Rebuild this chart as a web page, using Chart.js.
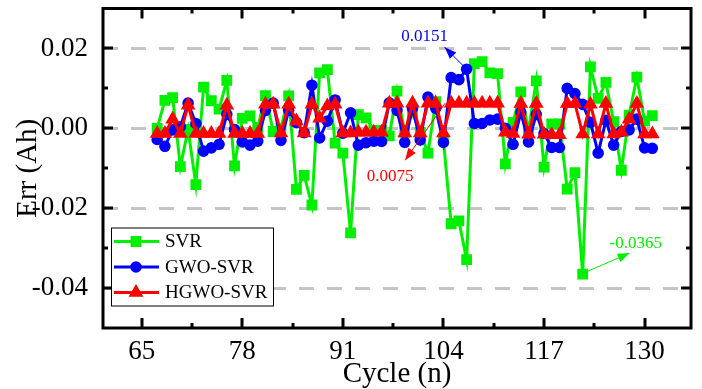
<!DOCTYPE html>
<html>
<head>
<meta charset="utf-8">
<script src="https://cdn.jsdelivr.net/npm/chart.js@4.4.0/dist/chart.umd.min.js"></script>
<style>
  html, body { margin: 0; padding: 0; background: #fff; }
  #wrap { width: 702px; height: 389px; }
</style>
</head>
<body>
<div id="wrap"><canvas id="chart" width="702" height="389"></canvas></div>
<script>
// --- Data ---
const cycles = [67, 68, 69, 70, 71, 72, 73, 74, 75, 76, 77, 78, 79, 80, 81, 82, 83, 84, 85, 86,
    87, 88, 89, 90, 91, 92, 93, 94, 95, 96, 97, 98, 99, 100, 101, 102, 103, 104, 105, 106,
    107, 108, 109, 110, 111, 112, 113, 114, 115, 116, 117, 118, 119, 120, 121, 122, 123, 124, 125, 126,
    127, 128, 129, 130, 131];

const svrErr = [0.0000, 0.0070, 0.0077, -0.0096, -0.0003, -0.0141, 0.0103, 0.0069, 0.0048, 0.0120,
    -0.0094, 0.0025, 0.0031, 0.0002, 0.0082, -0.0008, 0.0000, 0.0081, -0.0153, -0.0118,
    -0.0192, 0.0139, 0.0147, -0.0037, -0.0062, -0.0262, 0.0034, 0.0026, -0.0005, -0.0005,
    -0.0019, 0.0093, -0.0010, 0.0040, -0.0010, -0.0062, 0.0067, -0.0030, -0.0239, -0.0232,
    -0.0329, 0.0162, 0.0167, 0.0139, 0.0137, -0.0089, 0.0015, 0.0091, -0.0006, 0.0119,
    -0.0097, 0.0011, 0.0011, -0.0152, -0.0111, -0.0365, 0.0154, 0.0075, 0.0115, 0.0017,
    -0.0105, 0.0033, 0.0128, 0.0018, 0.0032];

const gwoErr = [-0.0028, -0.0045, -0.0004, 0.0004, 0.0063, 0.0012, -0.0057, -0.0049, -0.0040, 0.0035,
    -0.0003, -0.0034, -0.0042, -0.0032, 0.0045, 0.0063, -0.0030, 0.0045, 0.0014, -0.0011,
    0.0108, -0.0024, 0.0018, 0.0071, -0.0012, 0.0039, -0.0042, -0.0036, -0.0032, -0.0033,
    0.0064, 0.0045, -0.0035, 0.0050, -0.0029, 0.0078, 0.0050, -0.0035, 0.0127, 0.0122,
    0.0148, 0.0012, 0.0012, 0.0021, 0.0023, 0.0000, -0.0040, 0.0040, -0.0034, 0.0035,
    -0.0013, -0.0048, -0.0048, 0.0100, 0.0087, 0.0060, 0.0015, -0.0062, 0.0020, -0.0042,
    -0.0008, -0.0004, 0.0023, -0.0049, -0.0050];

const hgwoErr = [-0.0013, -0.0013, 0.0023, -0.0013, 0.0058, -0.0013, -0.0013, -0.0013, -0.0013, 0.0058,
    -0.0013, -0.0013, -0.0013, -0.0013, 0.0060, 0.0060, -0.0012, 0.0060, 0.0018, -0.0012,
    0.0060, 0.0025, 0.0056, 0.0060, -0.0012, -0.0012, -0.0010, -0.0010, -0.0010, -0.0010,
    0.0063, 0.0063, -0.0012, 0.0063, -0.0012, 0.0063, 0.0063, -0.0012, 0.0063, 0.0063,
    0.0063, 0.0063, 0.0063, 0.0063, 0.0063, -0.0010, -0.0013, 0.0062, -0.0015, 0.0062,
    -0.0015, -0.0016, -0.0016, 0.0062, 0.0062, -0.0014, 0.0060, -0.0014, 0.0062, -0.0014,
    -0.0010, 0.0023, 0.0062, -0.0014, -0.0014];

const xTicks = [65, 78, 91, 104, 117, 130];
const xMinorTicks = [71.5, 84.5, 97.5, 110.5, 123.5];
const yTicks = [-0.04, -0.02, 0.00, 0.02];
const yMinorTicks = [-0.03, -0.01, 0.01];

// labelled extremes, placed relative to the data point they point at
const callouts = [
    { series: 1, cycle: 107, text: '0.0151', textDx: -42, textDy: -33, tailDx: -3, tailDy: -3, headDx: -22, headDy: -22 },
    { series: 2, cycle: 105, text: '0.0075', textDx: -61, textDy: 73, tailDx: -6, tailDy: 0, headDx: -46, headDy: 57 },
    { series: 0, cycle: 122, text: '-0.0365', textDx: 53, textDy: -31, tailDx: 3, tailDy: -2, headDx: 47, headDy: -21 }
];

const SERIF = '"Liberation Serif", "Times New Roman", serif';
const GREEN = '#00f000';
const BLUE = '#0000ff';
const RED = '#ff0000';

function toPoints(values) {
    return cycles.map((c, i) => ({ x: c, y: values[i] }));
}

// --- Frame, inward ticks, legend, callouts ---
const decorPlugin = {
    id: 'decor',
    afterDraw(chart) {
        const { ctx, chartArea: a, scales: { x, y } } = chart;
        ctx.save();

        // frame
        ctx.strokeStyle = '#000';
        ctx.lineWidth = 3;
        ctx.strokeRect(a.left, a.top, a.right - a.left, a.bottom - a.top);

        // ticks on all four sides pointing inward
        ctx.beginPath();
        const xt = (v, len) => {
            const px = Math.round(x.getPixelForValue(v));
            ctx.moveTo(px, a.bottom); ctx.lineTo(px, a.bottom - len);
            ctx.moveTo(px, a.top); ctx.lineTo(px, a.top + len);
        };
        const yt = (v, len) => {
            const py = Math.round(y.getPixelForValue(v));
            ctx.moveTo(a.left, py); ctx.lineTo(a.left + len, py);
            ctx.moveTo(a.right, py); ctx.lineTo(a.right - len, py);
        };
        xTicks.forEach(v => xt(v, 10));
        xMinorTicks.forEach(v => xt(v, 5));
        yTicks.forEach(v => yt(v, 10));
        yMinorTicks.forEach(v => yt(v, 5));
        ctx.stroke();

        // legend box
        const lx = a.left + 8, ly = a.top + 219, lw = 162, lh = 78;
        ctx.fillStyle = '#fff';
        ctx.fillRect(lx, ly, lw, lh);
        ctx.lineWidth = 1;
        ctx.strokeStyle = '#000';
        ctx.strokeRect(lx + 0.5, ly + 0.5, lw, lh);

        ctx.font = '19px ' + SERIF;
        ctx.textBaseline = 'middle';
        ctx.textAlign = 'left';
        chart.data.datasets.forEach((ds, i) => {
            const rowY = ly + 14 + i * 25.5;
            ctx.strokeStyle = ds.borderColor;
            ctx.lineWidth = ds.borderWidth;
            ctx.beginPath();
            ctx.moveTo(lx + 3, rowY);
            ctx.lineTo(lx + 48, rowY);
            ctx.stroke();
            ctx.fillStyle = ds.pointBackgroundColor;
            ctx.strokeStyle = ds.pointBorderColor;
            Chart.helpers.drawPoint(ctx, {
                pointStyle: ds.pointStyle, radius: ds.pointRadius, rotation: 0, borderWidth: 1
            }, lx + 25, rowY);
            ctx.fillStyle = '#000';
            ctx.fillText(ds.label, lx + 54, rowY + 1);
        });

        // callouts
        ctx.font = '17px ' + SERIF;
        ctx.textAlign = 'center';
        callouts.forEach(c => {
            const ds = chart.data.datasets[c.series];
            const pt = ds.data.find(p => p.x === c.cycle);
            const px = x.getPixelForValue(pt.x);
            const py = y.getPixelForValue(pt.y);
            const col = ds.borderColor;
            const x0 = px + c.tailDx, y0 = py + c.tailDy;
            const x1 = px + c.headDx, y1 = py + c.headDy;
            ctx.strokeStyle = col;
            ctx.fillStyle = col;
            ctx.lineWidth = 1;
            ctx.beginPath();
            ctx.moveTo(x0, y0);
            ctx.lineTo(x1, y1);
            ctx.stroke();
            const ang = Math.atan2(y1 - y0, x1 - x0);
            const hl = 12, hw = 4.5;
            ctx.beginPath();
            ctx.moveTo(x1, y1);
            ctx.lineTo(x1 - hl * Math.cos(ang) + hw * Math.sin(ang), y1 - hl * Math.sin(ang) - hw * Math.cos(ang));
            ctx.lineTo(x1 - hl * Math.cos(ang) - hw * Math.sin(ang), y1 - hl * Math.sin(ang) + hw * Math.cos(ang));
            ctx.closePath();
            ctx.fill();
            ctx.fillText(c.text, px + c.textDx, py + c.textDy);
        });

        ctx.restore();
    }
};

const ctx = document.getElementById('chart');

new Chart(ctx, {
    type: 'line',
    data: {
        datasets: [
            {
                label: 'SVR',
                data: toPoints(svrErr),
                borderColor: GREEN,
                backgroundColor: GREEN,
                pointBackgroundColor: GREEN,
                pointBorderColor: GREEN,
                borderWidth: 3,
                pointStyle: 'rect',
                pointRadius: 5.5,
                order: 3
            },
            {
                label: 'GWO-SVR',
                data: toPoints(gwoErr),
                borderColor: BLUE,
                backgroundColor: BLUE,
                pointBackgroundColor: BLUE,
                pointBorderColor: BLUE,
                borderWidth: 3,
                pointStyle: 'circle',
                pointRadius: 4.3,
                order: 2
            },
            {
                label: 'HGWO-SVR',
                data: toPoints(hgwoErr),
                borderColor: RED,
                backgroundColor: RED,
                pointBackgroundColor: RED,
                pointBorderColor: RED,
                borderWidth: 3,
                pointStyle: 'triangle',
                pointRadius: 5.5,
                order: 1
            }
        ]
    },
    options: {
        responsive: false,
        animation: false,
        devicePixelRatio: 1,
        layout: { padding: { left: 0, right: 11, top: 8, bottom: 0 } },
        plugins: {
            legend: { display: false },
            tooltip: { enabled: false }
        },
        elements: { line: { tension: 0 } },
        scales: {
            x: {
                type: 'linear',
                min: 60,
                max: 136,
                afterBuildTicks: s => { s.ticks = xTicks.map(v => ({ value: v })); },
                afterFit: s => { s.height = 61; s.paddingLeft = 0; s.paddingRight = 0; },
                grid: { display: false, drawTicks: false },
                border: { display: false },
                ticks: {
                    color: '#000',
                    padding: 8,
                    maxRotation: 0,
                    font: { family: SERIF, size: 27 },
                    callback: v => String(v)
                },
                title: {
                    display: true,
                    text: 'Cycle (n)',
                    color: '#000',
                    padding: { top: 0, bottom: 0 },
                    font: { family: SERIF, size: 29, lineHeight: 1 }
                }
            },
            y: {
                min: -0.05,
                max: 0.03,
                afterBuildTicks: s => { s.ticks = yTicks.map(v => ({ value: v })); },
                afterFit: s => { s.width = 103; s.paddingTop = 0; s.paddingBottom = 0; },
                grid: {
                    drawTicks: false,
                    color: '#c4c4c4',
                    lineWidth: 3
                },
                border: { display: false, dash: [15, 13] },
                ticks: {
                    color: '#000',
                    padding: 15,
                    font: { family: SERIF, size: 27 },
                    callback: v => v.toFixed(2)
                },
                title: {
                    display: true,
                    text: 'Err (Ah)',
                    color: '#000',
                    padding: { top: 14, bottom: 0 },
                    font: { family: SERIF, size: 29, lineHeight: 1 }
                }
            }
        }
    },
    plugins: [decorPlugin]
});
</script>
</body>
</html>
